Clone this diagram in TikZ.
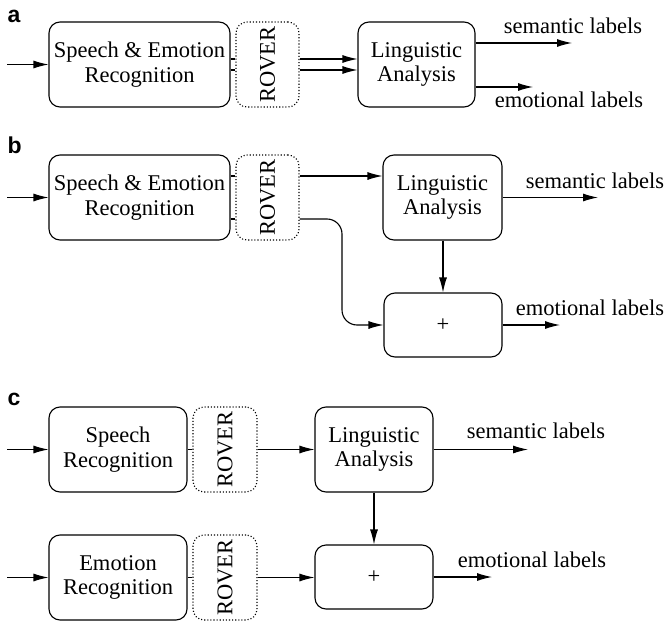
\documentclass[tikz,border=0pt]{standalone}
\usepackage{fontspec}
\setmainfont{Liberation Serif}
\newfontfamily\panelfont{Liberation Sans}
\usetikzlibrary{arrows.meta}
\begin{document}
\begin{tikzpicture}[x=1pt,y=-1pt,
  line width=1.1pt,
  font=\rmfamily\fontsize{22.5}{24.5}\selectfont,
  block/.style={draw, rounded corners=11pt, align=center, inner sep=0pt},
  rover/.style={draw, dotted, line width=1.1pt, rounded corners=11pt, inner sep=0pt,
    minimum width=63pt, minimum height=85pt},
  arr/.style={-{Latex[length=15pt,width=8pt]}},
  panel/.style={font=\panelfont\bfseries\fontsize{23}{24}\selectfont, anchor=base west, inner sep=0pt},
  outlabel/.style={anchor=base, inner sep=0pt}]
\useasboundingbox (0,0) rectangle (667,621);

% ---------- a ----------
\node[panel] (la) at (7,23) {a};
\node[block, minimum width=181pt, minimum height=85pt] (sea) at (139.5,64.5) {Speech \& Emotion\\Recognition};
\node[rover] (rva) at (267.5,64.5) {\rotatebox{90}{ROVER}};
\node[block, minimum width=117pt, minimum height=85pt] (laa) at (416.5,64.5) {Linguistic\\Analysis};
\coordinate (ina) at (7,64.5);
\coordinate (sema) at (572,43);
\coordinate (emoa) at (533,87);
\draw[arr] (ina) -- (sea.west);
\draw ([yshift=5.5pt]sea.east) -- ([yshift=5.5pt]rva.west);
\draw ([yshift=-5.5pt]sea.east) -- ([yshift=-5.5pt]rva.west);
\draw[arr] ([yshift=5.5pt]rva.east) -- ([yshift=5.5pt]laa.west);
\draw[arr] ([yshift=-5.5pt]rva.east) -- ([yshift=-5.5pt]laa.west);
\draw[arr] (laa.east |- sema) -- (sema);
\draw[arr] (laa.east |- emoa) -- (emoa);
\node[outlabel] (tsa) at (573,33) {semantic labels};
\node[outlabel] (tea) at (569,107) {emotional labels};

% ---------- b ----------
\node[panel] (lb) at (7,153) {b};
\node[block, minimum width=181pt, minimum height=85pt] (seb) at (139.5,197.5) {Speech \& Emotion\\Recognition};
\node[rover] (rvb) at (267.5,197.5) {\rotatebox{90}{ROVER}};
\node[block, minimum width=119pt, minimum height=85pt] (lab) at (442.5,197.5) {Linguistic\\Analysis};
\node[block, minimum width=118pt, minimum height=64pt] (plb) at (443,325) {+};
\coordinate (inb) at (7,197.5);
\coordinate (kb) at (342,270);
\coordinate (semb) at (598,197.5);
\coordinate (emob) at (560,325);
\draw[arr] (inb) -- (seb.west);
\draw ([yshift=21.5pt]seb.east) -- ([yshift=21.5pt]rvb.west);
\draw ([yshift=-21.5pt]seb.east) -- ([yshift=-21.5pt]rvb.west);
\draw[arr] ([yshift=21.5pt]rvb.east) -- (lab.west |- 0,176);
\draw[arr, rounded corners=15pt] ([yshift=-21.5pt]rvb.east) -| (kb) |- (plb.west);
\draw[arr] (lab.south -| plb.north) -- (plb.north);
\draw[arr] (lab.east) -- (semb);
\draw[arr] (plb.east) -- (emob);
\node[outlabel] (tsb) at (595,188) {semantic labels};
\node[outlabel] (teb) at (590,315) {emotional labels};

% ---------- c ----------
\node[panel] (lc) at (7,405) {c};
\node[block, minimum width=138pt, minimum height=85pt] (src) at (118,449.5) {Speech\\Recognition};
\node[rover, minimum width=64pt] (rvc) at (225,449.5) {\rotatebox{90}{ROVER}};
\node[block, minimum width=118pt, minimum height=85pt] (lac) at (374,449.5) {Linguistic\\Analysis};
\node[block, minimum width=138pt, minimum height=85pt] (erc) at (118,577.5) {Emotion\\Recognition};
\node[rover, minimum width=64pt] (rvd) at (225,577.5) {\rotatebox{90}{ROVER}};
\node[block, minimum width=118pt, minimum height=64pt] (plc) at (374,577) {+};
\coordinate (inc) at (7,449.5);
\coordinate (ind) at (7,577.5);
\coordinate (semc) at (528,449.5);
\coordinate (emoc) at (492,577);
\draw[arr] (inc) -- (src.west);
\draw[arr] (ind) -- (erc.west);
\draw (src.east) -- (rvc.west);
\draw (erc.east) -- (rvd.west);
\draw[arr] (rvc.east) -- (lac.west);
\draw[arr] (rvd.east) -- (plc.west |- rvd.east);
\draw[arr] (lac.south) -- (plc.north);
\draw[arr] (lac.east) -- (semc);
\draw[arr] (plc.east) -- (emoc);
\node[outlabel] (tsc) at (536,438) {semantic labels};
\node[outlabel] (tec) at (532,567) {emotional labels};
\end{tikzpicture}
\end{document}
